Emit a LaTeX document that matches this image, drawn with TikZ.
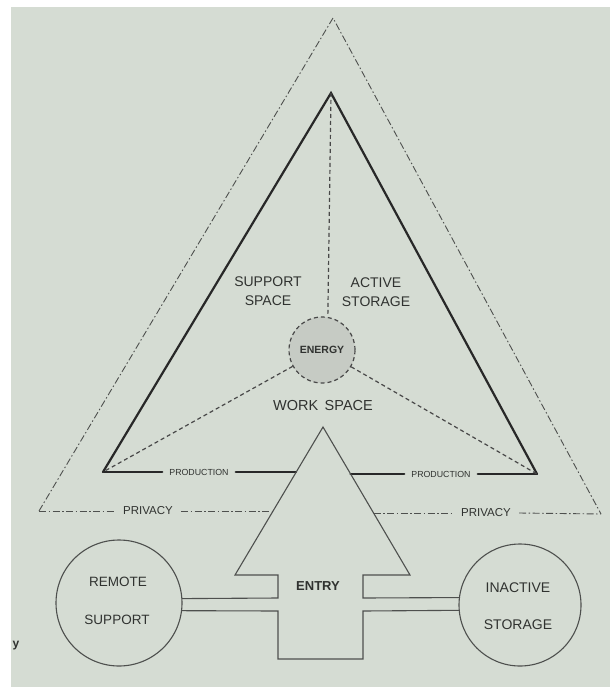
\documentclass[tikz,border=0pt]{standalone}
\usepackage{fontspec}
\setmainfont{Liberation Sans}
\usetikzlibrary{calc}
\definecolor{bg}{RGB}{213,220,211}
\definecolor{ink}{RGB}{40,40,40}
\definecolor{thinink}{RGB}{78,80,78}
\definecolor{engfill}{RGB}{198,203,196}
\definecolor{txt}{RGB}{48,50,48}
\begin{document}
\begin{tikzpicture}[x=1pt,y=-1pt,
  lbl/.style={text=txt, inner sep=1pt, align=center},
  heavy/.style={draw=ink, line width=2.2pt, line cap=round, line join=miter},
  dsh/.style={draw=ink!85, line width=1.2pt, dash pattern=on 4pt off 3pt},
  dashdot/.style={draw=thinink, line width=0.9pt, dash pattern=on 7pt off 2.5pt on 1.5pt off 2.5pt},
  outline/.style={draw=thinink, line width=1.1pt, line join=miter},
  roomcircle/.style={circle, draw=thinink, line width=1.1pt, inner sep=0pt, outer sep=0pt, minimum size=#1}
]
\useasboundingbox (0,0) rectangle (610,687);
\fill[white] (0,0) rectangle (610,687);
\fill[bg] (11,7) rectangle (610,687);

% ---------- coordinates ----------
\coordinate (oA)  at (333,18);
\coordinate (oBL) at (39,511);
\coordinate (oBR) at (601,514);
\coordinate (iA)  at (331,93);
\coordinate (iBL) at (103,472);
\coordinate (iBR) at (537,474);
\coordinate (aT)  at (323,427);
\coordinate (aBL) at (235,575);
\coordinate (aBR) at (410,575);
\coordinate (aSL) at (278,575);
\coordinate (aSR) at (363,575);
\coordinate (cLt) at (278,598);
\coordinate (cLb) at (278,611);
\coordinate (cRt) at (363,598);
\coordinate (cRb) at (363,611);
\coordinate (bL)  at (278,659);
\coordinate (bR)  at (363,659);
\coordinate (pL)  at (296,472);
\coordinate (pR)  at (350.5,474);
\coordinate (vL)  at (273,511);
\coordinate (vR)  at (373.5,513);

% ---------- outer (privacy) triangle ----------
\draw[dashdot] (oBL) -- (oA) -- (oBR);
\node[lbl, font=\fontsize{11.5}{13}\selectfont, inner xsep=8pt] (privL) at (148,511) {PRIVACY};
\node[lbl, font=\fontsize{11.5}{13}\selectfont, inner xsep=8pt] (privR) at (486,513) {PRIVACY};
\draw[dashdot] (oBL) -- (privL.west);
\draw[dashdot] (privL.east) -- (vL);
\draw[dashdot] (vR) -- (privR.west);
\draw[dashdot] (privR.east) -- (oBR);

% ---------- inner (production) triangle ----------
\draw[heavy] (iBL) -- (iA) -- (iBR);
\node[lbl, font=\fontsize{8.8}{10}\selectfont, inner xsep=7pt] (prodL) at (199,472) {PRODUCTION};
\node[lbl, font=\fontsize{8.8}{10}\selectfont, inner xsep=7pt] (prodR) at (441,474) {PRODUCTION};
\draw[heavy] (iBL) -- (prodL.west);
\draw[heavy] (prodL.east) -- (pL);
\draw[heavy] (pR) -- (prodR.west);
\draw[heavy] (prodR.east) -- (iBR);

% ---------- energy core ----------
\node[circle, minimum size=66pt, inner sep=0pt, fill=engfill, draw=ink!85, line width=1.2pt,
      dash pattern=on 4pt off 3pt, text=txt, font=\bfseries\fontsize{10.5}{12}\selectfont]
      (energy) at (322,350) {ENERGY};
\draw[dsh] (iA) -- (energy.80);
\draw[dsh] (energy) -- (iBL);
\draw[dsh] (energy) -- (iBR);

% ---------- zone labels ----------
\node[lbl, font=\fontsize{14}{18.5}\selectfont] (support) at (268,291) {SUPPORT\\SPACE};
\node[lbl, font=\fontsize{14}{18.5}\selectfont] (active) at (376,292) {ACTIVE\\STORAGE};
\node[lbl, font=\fontsize{14.5}{16}\selectfont] (work) at (323,406) {WORK\ \,SPACE};

% ---------- entry arrow and corridors ----------
\node[roomcircle=126pt] (remote) at (119,603) {};
\node[roomcircle=122pt] (inactive) at (520,605) {};
\draw[outline] (remote.4.5) -- (cLt) -- (aSL) -- (aBL) -- (aT) -- (aBR) -- (aSR) -- (cRt) -- (inactive.173.4);
\draw[outline] (remote.-7.3) -- (cLb) -- (bL) -- (bR) -- (cRb) -- (inactive.185.6);
\node[lbl, font=\bfseries\fontsize{13}{15}\selectfont] (entry) at (318,586) {ENTRY};

\node[lbl, font=\fontsize{13.5}{15}\selectfont] (rem1) at (118,582) {REMOTE};
\node[lbl, font=\fontsize{13.5}{15}\selectfont] (rem2) at (117,620) {SUPPORT};
\node[lbl, font=\fontsize{14}{15}\selectfont] (ina1) at (518,588) {INACTIVE};
\node[lbl, font=\fontsize{14}{15}\selectfont] (ina2) at (518,625) {STORAGE};

% ---------- cropped caption fragment ----------
\node[lbl, font=\bfseries\fontsize{12}{14}\selectfont] (frag) at (16,646) {y};
\end{tikzpicture}
\end{document}
